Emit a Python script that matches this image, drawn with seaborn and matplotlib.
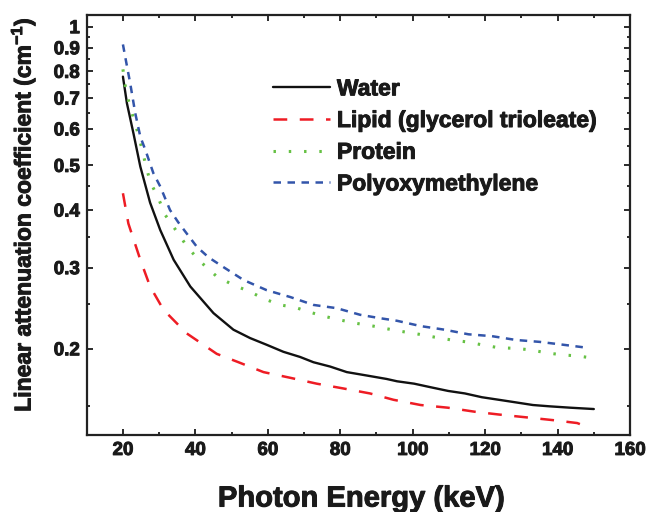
import numpy as np
import pandas as pd
import seaborn as sns
import matplotlib.pyplot as plt
import matplotlib.ticker as mticker
import matplotlib.patheffects as pe

# Values (keV, cm^-1)
water_kev = [20.0, 21.1, 22.9, 24.8, 27.5, 30.3, 34.0, 38.6, 45.0, 50.5, 55.1, 59.7, 64.3,
             68.9, 72.6, 77.2, 81.8, 87.3, 92.8, 95.7, 100.4, 105.0, 109.8, 114.4, 119.1,
             123.8, 128.5, 133.2, 137.9, 143.5, 150.0]
water_mu = [0.779, 0.682, 0.587, 0.497, 0.415, 0.362, 0.312, 0.273, 0.239, 0.220, 0.211, 0.204, 0.197,
            0.192, 0.187, 0.183, 0.178, 0.175, 0.172, 0.170, 0.168, 0.165, 0.162, 0.160, 0.157,
            0.155, 0.153, 0.151, 0.150, 0.149, 0.148]

lipid_kev = [20.0, 21.5, 24.8, 27.5, 31.2, 37.6, 45.9, 51.9, 58.8, 66.2, 73.5, 80.9, 88.2,
             94.7, 102.2, 109.7, 117.2, 123.8, 131.3, 138.8, 145.4, 147.5]
lipid_mu = [0.435, 0.374, 0.312, 0.273, 0.243, 0.216, 0.195, 0.187, 0.178, 0.173, 0.168, 0.164, 0.160,
            0.155, 0.151, 0.149, 0.146, 0.144, 0.142, 0.140, 0.138, 0.136]

protein_kev = [20.0, 20.6, 21.5, 22.9, 24.3, 26.2, 27.5, 29.8, 31.7, 34.9, 38.1, 41.8, 45.9,
               50.5, 55.1, 58.8, 63.4, 67.5, 71.7, 75.8, 79.9, 84.6, 89.1, 92.9, 97.1, 101.8,
               106.0, 110.7, 114.9, 119.1, 123.8, 128.0, 132.3, 137.0, 141.2, 145.4, 149.6]
protein_mu = [0.808, 0.747, 0.693, 0.633, 0.582, 0.505, 0.461, 0.424, 0.390, 0.359, 0.330, 0.307, 0.287,
              0.275, 0.266, 0.257, 0.249, 0.246, 0.240, 0.235, 0.231, 0.227, 0.224, 0.221, 0.218, 0.215,
              0.212, 0.209, 0.207, 0.204, 0.201, 0.2005, 0.199, 0.196, 0.194, 0.193, 0.191]

poly_kev = [20.0, 20.8, 22.0, 23.4, 24.8, 26.2, 28.4, 30.3, 33.0, 35.3, 37.7, 40.4, 43.6, 47.4,
            53.3, 59.7, 66.2, 72.6, 79.0, 85.5, 91.0, 95.7, 102.2, 108.8, 115.4, 121.9, 128.5,
            135.1, 141.7, 148.2]
poly_mu = [0.915, 0.846, 0.754, 0.649, 0.577, 0.540, 0.481, 0.450, 0.400, 0.376, 0.355, 0.333, 0.316, 0.302,
           0.282, 0.268, 0.259, 0.249, 0.245, 0.237, 0.233, 0.230, 0.224, 0.220, 0.215, 0.213, 0.209,
           0.207, 0.204, 0.201]

x_ticks = [20, 40, 60, 80, 100, 120, 140, 160]
y_ticks = [0.2, 0.3, 0.4, 0.5, 0.6, 0.7, 0.8, 0.9, 1.0]
y_tick_labels = ["0.2", "0.3", "0.4", "0.5", "0.6", "0.7", "0.8", "0.9", "1"]

sns.set_style("ticks")
plt.rcParams["font.family"] = ["Liberation Sans", "DejaVu Sans"]
plt.rcParams["font.weight"] = "bold"
plt.rcParams["mathtext.fontset"] = "custom"
plt.rcParams["mathtext.rm"] = "Liberation Sans:bold"
plt.rcParams["mathtext.default"] = "rm"

fig = plt.figure(figsize=(6.51, 5.12), dpi=100)
ax = fig.add_axes([0.1332, 0.1504, 0.8346, 0.8203])

series = [
    ("Water", water_kev, water_mu, "#111111", "-", 1.7),
    ("Lipid (glycerol trioleate)", lipid_kev, lipid_mu, "#ee1c24", (0, (5.5, 5)), 1.8),
    ("Protein", protein_kev, protein_mu, "#66c144", (0, (0.8, 4.2)), 2.2),
    ("Polyoxymethylene", poly_kev, poly_mu, "#3355aa", (0, (3, 2.6)), 1.8),
]
for name, kev, mu, col, ls, lw in series:
    df = pd.DataFrame({"energy": kev, "mu": mu})
    sns.lineplot(data=df, x="energy", y="mu", ax=ax, color=col, linestyle=ls,
                 linewidth=lw, label=name)

ax.set_yscale("log")
ax.set_xlim(10, 160)
ax.set_ylim(0.13, 1.06)
ax.set_xticks(x_ticks)
ax.xaxis.set_minor_locator(mticker.MultipleLocator(10))
ax.yaxis.set_major_locator(mticker.FixedLocator(y_ticks))
ax.yaxis.set_major_formatter(mticker.FixedFormatter(y_tick_labels))
ax.yaxis.set_minor_locator(mticker.FixedLocator([0.15, 0.25, 0.35, 0.45, 0.55, 0.65,
                                                 0.75, 0.85, 0.95]))
ax.yaxis.set_minor_formatter(mticker.NullFormatter())

ax.tick_params(which="both", direction="in", top=True, right=True, width=1.3,
               labelsize=13.5, colors="#1a1a1a", pad=5)
ax.tick_params(which="major", length=4.5)
ax.tick_params(which="minor", length=2.5)
for s in ax.spines.values():
    s.set_linewidth(1.6)
    s.set_color("#222222")

heavy = [pe.withStroke(linewidth=0.7, foreground="#1a1a1a")]

ax.set_xlabel("Photon Energy (keV)", fontsize=21, fontweight="bold", color="#1a1a1a",
              path_effects=heavy)
ax.xaxis.set_label_coords(0.505, -0.118)
ax.set_ylabel(r"Linear attenuation coefficient (cm$^{-1}$)", fontsize=16.5,
              fontweight="bold", color="#1a1a1a", path_effects=heavy)
ax.yaxis.set_label_coords(-0.09, 0.524)

for lab in ax.get_xticklabels() + ax.get_yticklabels():
    lab.set_path_effects(heavy)

leg = ax.legend(loc="upper left", bbox_to_anchor=(0.419, 0.849), bbox_transform=fig.transFigure,
                frameon=False, fontsize=16.5, handlelength=2.5, handletextpad=0.3,
                labelspacing=0.38, borderpad=0, borderaxespad=0)
for t in leg.get_texts():
    t.set_color("#1a1a1a")
    t.set_path_effects(heavy)

fig.savefig("out.png", dpi=100)
